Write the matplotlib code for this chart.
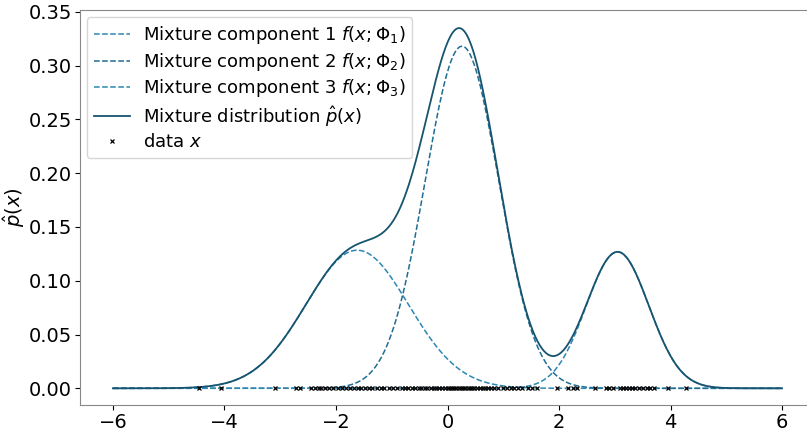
import numpy as np
import matplotlib
matplotlib.use("Agg")
import matplotlib.pyplot as plt

# mixture parameters
means = [-1.62, 0.26, 3.05]
sigmas = [0.92, 0.66, 0.56]
weights = [0.296, 0.526, 0.178]

# observed samples (marks along y=0)
data_x = [-4.45, -4.07, -3.09, -2.72, -2.65, -2.45, -2.38, -2.31, -2.26, -2.2,
          -2.12, -2.05, -1.97, -1.9, -1.82, -1.74, -1.68, -1.61, -1.55, -1.48,
          -1.41, -1.35, -1.27, -1.2, -1.13, -1.05, -0.98, -0.9, -0.82, -0.76,
          -0.7, -0.64, -0.58, -0.52, -0.47, -0.41, -0.36, -0.3, -0.25, -0.2,
          -0.15, -0.1, -0.05, 0.0, 0.04, 0.08, 0.12, 0.16, 0.2, 0.24,
          0.28, 0.32, 0.36, 0.4, 0.44, 0.48, 0.53, 0.58, 0.63, 0.68,
          0.73, 0.78, 0.84, 0.9, 1.0, 1.06, 1.13, 1.2, 1.27, 1.34,
          1.44, 1.52, 1.6, 1.97, 2.17, 2.25, 2.33, 2.65, 2.84, 2.9,
          2.97, 3.1, 3.15, 3.2, 3.26, 3.31, 3.37, 3.43, 3.5, 3.57,
          3.64, 3.7, 3.95, 4.27]

comp_colors = ["#2b87b3", "#1f6d92", "#2b87b3"]
mix_color = "#17546f"


def gauss(x, m, s):
    return np.exp(-0.5 * ((x - m) / s) ** 2) / (s * np.sqrt(2 * np.pi))


xs = np.linspace(-6, 6, 600)

fig = plt.figure(figsize=(8.07, 4.32), dpi=100)
ax = fig.add_axes([79.5 / 807, 27 / 432, 736 / 807, 395 / 432])

total = np.zeros_like(xs)
for i in range(3):
    comp = weights[i] * gauss(xs, means[i], sigmas[i])
    total += comp
    ax.plot(xs, comp, "--", color=comp_colors[i], lw=1.1,
            label=f"Mixture component {i + 1} $f(x;\\Phi_{i + 1})$")
ax.plot(xs, total, "-", color=mix_color, lw=1.3,
        label="Mixture distribution $\\hat{p}(x)$")
ax.plot(data_x, np.zeros(len(data_x)), "x", color="black", ms=3, mew=0.9,
        label="data $x$")

ax.set_ylim(-0.0155, 0.3516)
ax.set_xticks([-6, -4, -2, 0, 2, 4, 6])
ax.set_ylabel("$\\hat{p}(x)$", fontsize=14, labelpad=1)
ax.tick_params(labelsize=14, pad=2)
for sp in ax.spines.values():
    sp.set_color("#888888")

ax.legend(loc="upper left", fontsize=13, handlelength=2.0, handletextpad=0.7,
          labelspacing=0.25, borderaxespad=0.4)

fig.savefig("out.png", dpi=100)
